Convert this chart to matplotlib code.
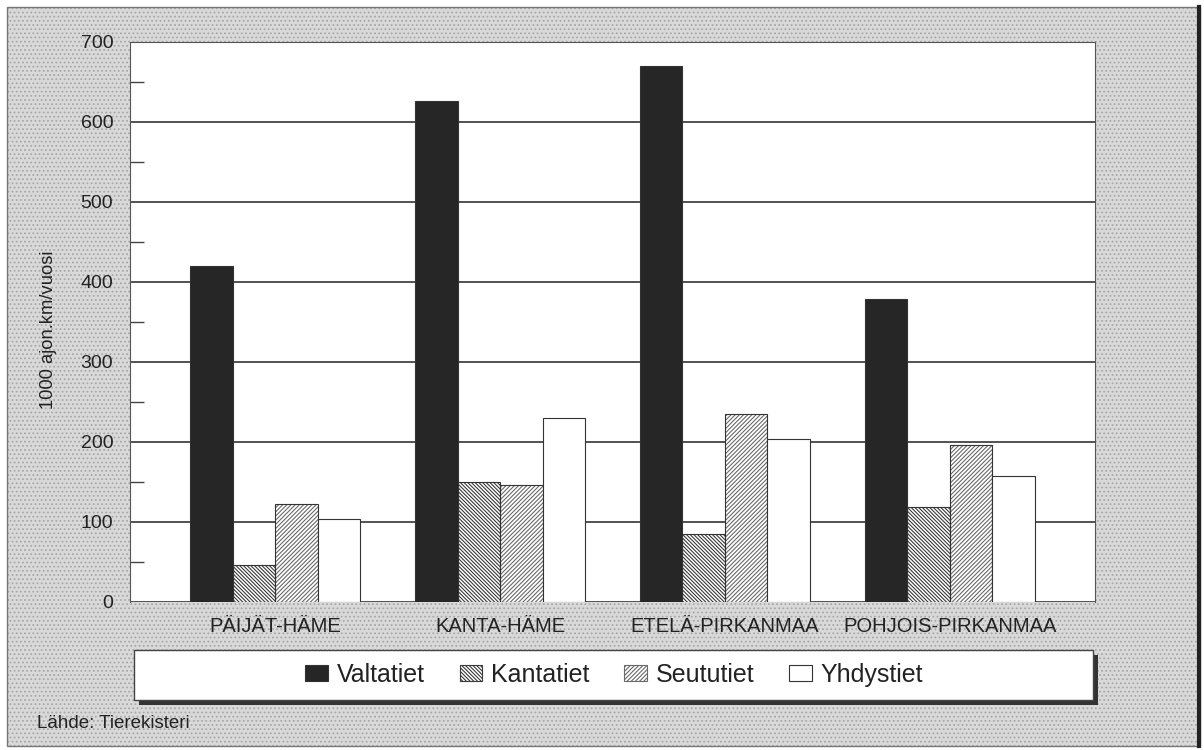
import numpy as np
import matplotlib
matplotlib.use('Agg')
import matplotlib.pyplot as plt
from matplotlib.patches import Rectangle, Patch

plt.rcParams['font.family'] = ['Liberation Sans', 'DejaVu Sans']
plt.rcParams['hatch.linewidth'] = 0.8

# Data (1000 ajon.km/vuosi)
regions = ['PÄIJÄT-HÄME', 'KANTA-HÄME', 'ETELÄ-PIRKANMAA', 'POHJOIS-PIRKANMAA']
series = ['Valtatiet', 'Kantatiet', 'Seututiet', 'Yhdystiet']
valtatiet = [420, 626, 670, 379]
kantatiet = [46, 150, 85, 119]
seututiet = [122, 146, 235, 196]
yhdystiet = [103, 230, 203, 157]

W, H = 1204, 750
fig = plt.figure(figsize=(W / 100, H / 100), dpi=100)
fig.patch.set_facecolor('white')

# textured grey background panel (behind the axes)
fig.patches.append(Rectangle((7 / W, 4 / H), 1193 / W, 739 / H, transform=fig.transFigure,
                             facecolor='#d9d9d9', edgecolor='#a8a8a8', hatch='....',
                             lw=0, zorder=-2))
fig.patches.append(Rectangle((7 / W, 4 / H), 1193 / W, 739 / H, transform=fig.transFigure,
                             fill=False, edgecolor='#777777', lw=1.0, zorder=-1))
fig.add_artist(plt.Line2D([1199 / W, 1199 / W], [4 / H, 743 / H], transform=fig.transFigure,
                          color='#222222', lw=3))

ax = fig.add_axes([130 / W, 1 - 601.7 / H, 965 / W, 560 / H])
ax.set_facecolor('white')

x = np.arange(len(regions))
w = 0.189
styles = [
    dict(color='#262626', hatch=None),
    dict(color='#3a3a3a', hatch='\\' * 9),
    dict(color='#6a6a6a', hatch='/' * 8),
    dict(color='white', hatch=None),
]
data = [valtatiet, kantatiet, seututiet, yhdystiet]
handles = []
for i, (vals, st) in enumerate(zip(data, styles)):
    pos = x + (i - 1.5) * w
    if st['hatch']:
        ax.bar(pos, vals, w, facecolor='white', edgecolor=st['color'], hatch=st['hatch'],
               lw=0, zorder=2)
        ax.bar(pos, vals, w, fill=False, edgecolor='#333333', lw=0.8, zorder=3)
        handles.append(Patch(facecolor='white', edgecolor=st['color'], hatch=st['hatch'], lw=0.8))
    else:
        ax.bar(pos, vals, w, facecolor=st['color'], edgecolor='#333333', lw=0.8, zorder=3)
        handles.append(Patch(facecolor=st['color'], edgecolor='#333333', lw=0.8))

ax.set_xlim(-0.646, 3.646)
ax.set_ylim(0, 700)
ax.set_yticks(np.arange(0, 701, 100))
ax.set_yticks(np.arange(50, 700, 100), minor=True)
ax.yaxis.grid(True, which='major', color='#333333', lw=1.2)
ax.set_axisbelow(True)
ax.tick_params(axis='y', which='major', length=0, pad=12, labelsize=14, labelcolor='#222222')
ax.tick_params(axis='y', which='minor', direction='in', length=10, width=1, color='#444444')
ax.set_xticks(x)
ax.set_xticklabels(regions)
ax.tick_params(axis='x', length=0, pad=11, labelsize=14.5, labelcolor='#222222')
for side in ['left', 'right', 'top']:
    ax.spines[side].set_color('#555555')
    ax.spines[side].set_linewidth(0.8)
ax.spines['bottom'].set_visible(False)

ax.set_ylabel('1000 ajon.km/vuosi', fontsize=13.2, color='#222222')
ax.yaxis.set_label_coords(-0.0757, 0.485)

# legend box with shadow
fig.patches.append(Rectangle((139 / W, 1 - 705 / H), 959 / W, 50 / H, transform=fig.transFigure,
                             facecolor='#333333', edgecolor='none', zorder=2))
fig.patches.append(Rectangle((134 / W, 1 - 700 / H), 959 / W, 50 / H, transform=fig.transFigure,
                             facecolor='white', edgecolor='#444444', lw=1, zorder=3))
leg = fig.legend(handles, series, loc='center', bbox_to_anchor=(614 / W, 1 - 675 / H), ncol=4,
                 frameon=False, fontsize=18, handlelength=0.9, handleheight=0.6,
                 handletextpad=0.35, columnspacing=1.4)
leg.set_zorder(4)
for t in leg.get_texts():
    t.set_color('#222222')

fig.text(37 / W, 1 - 723 / H, 'Lähde: Tierekisteri', fontsize=13.5, color='#222222',
         ha='left', va='center')

plt.savefig('out.png', dpi=100)
